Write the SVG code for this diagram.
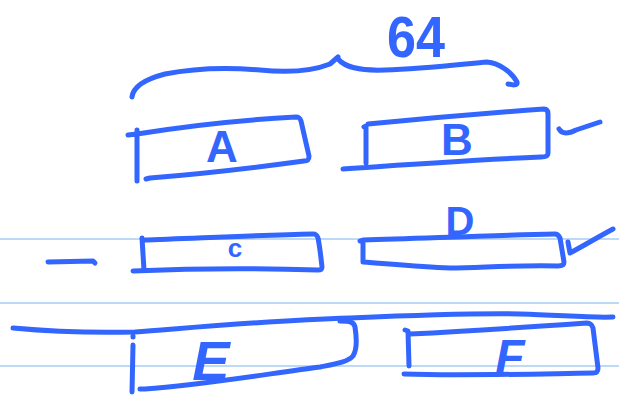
<svg xmlns="http://www.w3.org/2000/svg" width="619" height="398" viewBox="0 0 619 398">
<style>
.rule{stroke:#a9cdf6;stroke-width:1.6;fill:none}
.ink{stroke:#3366ff;stroke-width:5;fill:none;stroke-linecap:round;stroke-linejoin:round}
.lbl{fill:#3366ff;font-family:"Liberation Sans",Arial,sans-serif;font-weight:bold;text-anchor:middle}
</style>
<rect width="619" height="398" fill="#ffffff"/>
<g id="rules">
<line class="rule" x1="0" y1="239" x2="619" y2="239"/>
<line class="rule" x1="0" y1="303" x2="619" y2="303"/>
<line class="rule" x1="0" y1="366" x2="619" y2="366"/>
</g>
<g id="connectors">
<path id="brace" class="ink" d="M132,97 C133,88 142,80 165,74 C195,68 225,67 260,70 C290,73 315,70 330,64 L338,57 M338,59 C345,67 358,71 385,70 C420,69 455,65 487,62 C500,63 512,73 517,82 C518,86 512,85 508,84"/>
<path id="divider" class="ink" d="M13,328 C45,331 90,333 135,332 C200,327 275,320 350,318 C420,315 470,313 520,314 C560,315 590,318 613,317"/>
<path id="dash-c" class="ink" d="M48,262 L93,261 L95,263"/>
<path id="tick-b" class="ink" d="M559,129 C562,134 568,134 576,130 L600,122"/>
<path id="tick-d" class="ink" d="M568,242 L570,253 C585,245 598,237 613,229"/>
</g>
<g id="label-64">
<text class="lbl" x="416" y="57" font-size="58" textLength="58" lengthAdjust="spacingAndGlyphs">64</text>
</g>
<g id="node-a">
<path class="ink" d="M128,135 L137,134 M137,130 L137,181 M137,134 C180,127 240,120 296,117 C299,117 300,118 301,121 L309,156 C309,160 308,161 304,161 C260,167 200,174 150,178 L146,179"/>
<text class="lbl" x="222" y="162" font-size="44">A</text>
</g>
<g id="node-b">
<path class="ink" d="M364,127 L366,126 L366,163 M368,124 C430,118 490,113 544,109 C547,109 548,111 548,114 L548,153 C548,156 546,157 541,157 C470,160 400,165 343,169"/>
<text class="lbl" x="457" y="155" font-size="44">B</text>
</g>
<g id="node-c">
<path class="ink" d="M142,238 L144,270 M133,271 C200,268 260,268 318,270 C321,270 322,269 322,267 C321,258 320,248 318,238 C317,235 316,234 313,234 C260,235 200,238 142,240"/>
<text class="lbl" x="235" y="257" font-size="26">c</text>
</g>
<g id="node-d">
<path class="ink" d="M360,241 L363,240 L363,262 M363,240 C430,238 500,235 555,234 C558,234 559,236 560,238 L564,262 C564,265 562,266 558,266 C510,265 480,268 450,268 C420,267 390,264 363,262"/>
<text class="lbl" x="460" y="235" font-size="40">D</text>
</g>
<g id="node-e">
<path class="ink" d="M133,336 L133,337 M133,345 L132,392 M340,321 C350,321 354,322 355,327 C357,340 357,350 353,356 C348,362 335,364 320,367 C260,375 200,385 145,389 L140,389"/>
<text class="lbl" x="211" y="380" font-size="56" font-style="italic">E</text>
</g>
<g id="node-f">
<path class="ink" d="M405,330 L408,331 L409,366 M404,374 C460,376 530,374 593,373 C597,373 598,371 598,368 L593,328 C592,325 590,323 587,323 C530,327 470,331 410,334"/>
<text class="lbl" x="510" y="373" font-size="48" font-style="italic">F</text>
</g>
</svg>
